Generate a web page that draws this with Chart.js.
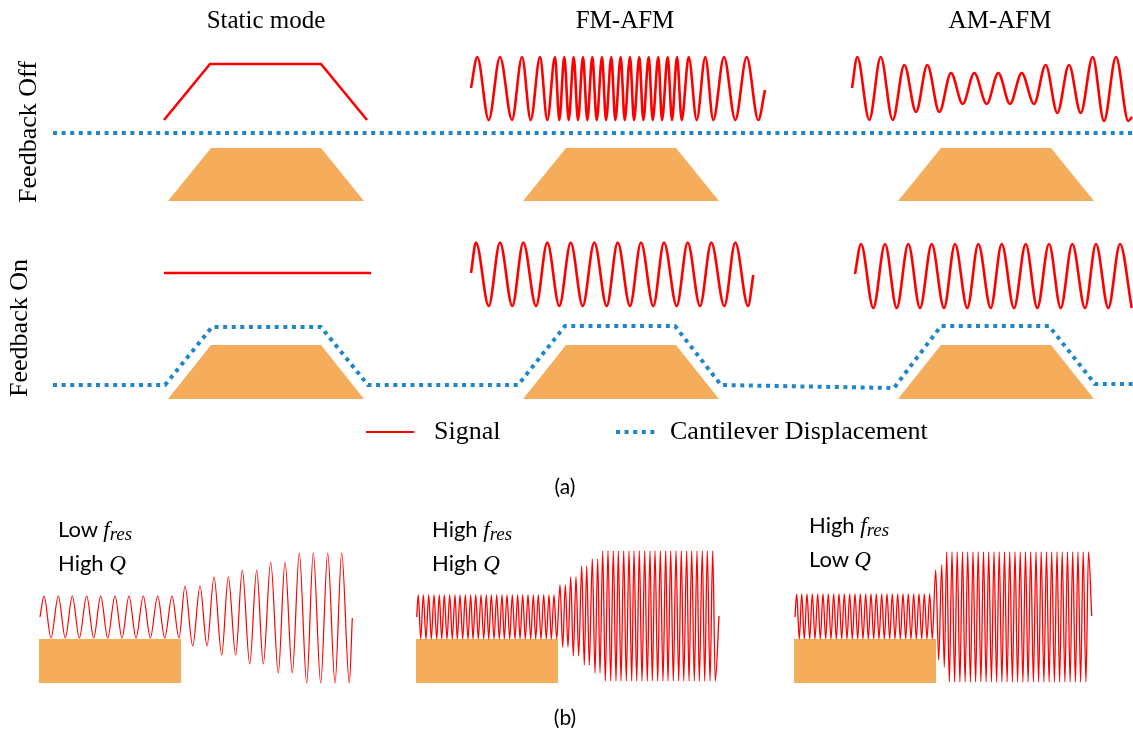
<!DOCTYPE html>
<html>
<head>
    <script src="https://cdn.jsdelivr.net/npm/chart.js@4.4.0/dist/chart.umd.min.js"></script>
    <style>
        body {
            margin: 0;
            background: #fff;
        }

        .wrap {
            position: relative;
            width: 1133px;
            height: 731px;
        }

        canvas {
            position: absolute;
            left: 0;
            top: 0;
        }

        .lbl {
            position: absolute;
            font-family: 'Liberation Serif', serif;
            font-size: 25px;
            line-height: 1;
            color: #000;
            white-space: nowrap;
            transform: translate(-50%, -50%);
        }

        .side {
            font-size: 26px;
            transform: translate(-50%, -50%) rotate(-90deg);
        }

        .leg {
            font-size: 26px;
            transform: translate(0, -50%);
        }

        .cap {
            font-family: 'Lato', sans-serif;
            font-size: 21px;
        }

        .note {
            position: absolute;
            font-family: 'Lato', sans-serif;
            font-size: 22px;
            line-height: 29px;
            color: #000;
            white-space: nowrap;
        }

        .note i {
            font-family: 'Liberation Serif', serif;
            font-size: 23px;
        }

        .note sub {
            font-family: 'Liberation Serif', serif;
            font-style: italic;
            font-size: 19px;
            vertical-align: -3px;
        }
    </style>
</head>
<body>
    <div class="wrap">
        <canvas id="fig" width="1133" height="731"></canvas>
    </div>

    <script>
        // titles and labels
        const titles = ['Static mode', 'FM-AFM', 'AM-AFM'];
        const rowLabels = ['Feedback Off', 'Feedback On'];
        const legendLabels = ['Signal', 'Cantilever Displacement'];
        const panelLabels = ['(a)', '(b)'];

        // (a) static mode signal
        const staticOffX = [164, 210, 321, 367];
        const staticOffY = [120, 64, 64, 120];
        const staticOnX = [164, 371];
        const staticOnY = [273, 273];

        // (a) FM-AFM signal, feedback off (peaks/troughs)
        const fmOffX = [471, 477.3, 488.7, 500, 512, 522, 530.7, 540, 547.3, 555, 559.3, 564.3, 568.7,
            573.7, 578, 583, 587.3, 592.3, 596.7, 602, 606, 611.3, 615.3, 620.7, 624.7, 630, 634, 639.3,
            643.3, 648.7, 652.7, 658.3, 662, 667.7, 672, 677, 681.7, 688.7, 696.7, 705.3, 713.3, 724,
            735.3, 746.7, 758.3, 765];
        const fmOffY = [88, 57, 120, 57, 120, 57, 120, 57, 120, 57, 120, 57, 120, 57, 120, 57, 120,
            57, 120, 57, 120, 57, 120, 57, 120, 57, 120, 57, 120, 57, 120, 57, 120, 57, 120, 57, 120,
            57, 120, 57, 120, 57, 120, 57, 120, 90];

        // (a) AM-AFM signal, feedback off
        const amOffX = [852, 857.3, 869.3, 880.7, 892.7, 904.3, 916, 927.3, 939.3, 951, 962.7, 974.3,
            986.7, 998.3, 1010, 1021.7, 1034, 1045.7, 1057.3, 1069, 1080.7, 1092.7, 1104, 1116, 1128.3, 1132];
        const amOffY = [88, 57, 120, 57, 120, 65, 112, 65, 112, 73, 104, 73, 104, 73, 104, 73, 104,
            65, 113, 65, 113, 57, 121, 57, 121, 117];

        // (a) FM-AFM signal, feedback on
        const fmOnX = [471, 476, 488.7, 500, 512.3, 523.3, 536, 547.3, 559.3, 570.7, 582.7, 594.3,
            606.7, 617.7, 630, 641, 653.3, 664, 676.7, 687.7, 700, 711.3, 724.3, 735.3, 748, 753.3];
        const fmOnY = [273, 242.5, 306, 242.5, 306, 242.5, 306, 242.5, 306, 242.5, 306, 242.5, 306,
            242.5, 306, 242.5, 306, 242.5, 306, 242.5, 306, 242.5, 306, 242.5, 306, 275];

        // (a) AM-AFM signal, feedback on
        const amOnX = [855, 861, 873.3, 885, 896.7, 908.3, 920, 931.7, 944, 955, 967.3, 978.3, 990.7,
            1001.7, 1014, 1025.7, 1037.3, 1049, 1060.7, 1072.3, 1085, 1096, 1108.3, 1120, 1131.7];
        const amOnY = [274, 244, 308, 244, 308, 244, 308, 244, 308, 244, 308, 244, 308, 244, 308,
            244, 308, 244, 308, 244, 308, 244, 308, 244, 308];

        // (a) cantilever displacement
        const dispOffX = [53, 1133];
        const dispOffY = [133, 133];
        const dispOnX = [53, 165, 212, 321, 368, 518, 565, 675, 721, 894, 941, 1049, 1095, 1133];
        const dispOnY = [385, 385, 327, 327, 385, 385, 326, 326, 385, 388, 326, 326, 384, 384];

        // (a) samples (trapezoids): corners left to right
        const sampleX = [[168, 211, 321, 364], [523, 566, 676, 719], [898, 941, 1051, 1094]];
        const sampleOffY = [201, 148, 148, 201];
        const sampleOnY = [399, 345, 345, 399];

        // (b) samples (rectangles)
        const blockX = [[39, 181], [416, 558], [794, 936]];
        const blockY = [639, 683];

        // (b) Low f_res, High Q
        const bLowX = [40, 44, 51, 58.3, 65.3, 72.3, 79.3, 86.7, 93.7, 100.7, 107.7, 115, 122, 129,
            136, 143.3, 150.3, 157.7, 164.7, 172, 179, 185, 192.7, 200, 207, 214, 221.7, 228.3, 235.7,
            242.3, 249.7, 256.7, 263.3, 270.7, 278.3, 285, 292.3, 299.3, 306.7, 313.3, 320.7, 327.7,
            335, 341.7, 349.3, 352.3];
        const bLowY = [617, 596, 638, 596, 638, 596, 638, 596, 638, 596, 638, 596, 638, 596, 638,
            596, 638, 596, 638, 596, 638, 586, 646, 586, 646, 577, 655, 577, 655, 570, 664, 570, 664,
            562, 673, 562, 673, 553, 683, 553, 683, 553, 683, 553, 683, 618];

        // (b) High f_res, High Q
        const bHighQX = [416.7,
            418.3, 420.7, 423.3, 426, 428.7, 431.3, 434, 436.7, 439.3, 441.7, 444.3, 447, 449.7, 452.3,
            455, 457.3, 460, 462.7, 465.3, 468, 470.7, 473, 475.7, 478.3, 481, 483.7, 486.3, 488.7,
            491.3, 494, 496.7, 499.3, 502, 504.3, 507, 509.7, 512.3, 515, 517.7, 520, 522.7, 525.3,
            528, 530.7, 533.3, 535.7, 538.3, 541, 543.7, 546.3, 549, 551.3, 554, 556.7,
            560, 562.7, 565.3, 568, 570.7, 573.3, 576, 578.7, 581.7, 584.3, 586.7, 589.3, 592.3, 595,
            597.7, 600,
            602.7, 605.3, 608, 610.7, 613.3, 616, 618.3, 621, 623.7, 626.3, 629, 631.7, 634, 636.7,
            639.3, 642, 644.7, 647.3, 650, 652.3, 655, 657.7, 660.3, 663, 665.7, 668, 670.7, 673.3,
            676, 678.7, 681.3, 683.7, 686.7, 689, 691.7, 694.3, 697, 699.3, 702.3, 704.7, 707.3, 710,
            712.7, 715.3,
            719];
        const bHighQY = [617,
            595, 639, 595, 639, 595, 639, 595, 639, 595, 639, 595, 639, 595, 639, 595, 639, 595, 639,
            595, 639, 595, 639, 595, 639, 595, 639, 595, 639, 595, 639, 595, 639, 595, 639, 595, 639,
            595, 639, 595, 639, 595, 639, 595, 639, 595, 639, 595, 639, 595, 639, 595, 639, 595, 639,
            585, 647, 585, 647, 577, 656, 577, 656, 566, 665, 566, 665, 559, 673, 559, 673,
            551, 681, 551, 681, 551, 681, 551, 681, 551, 681, 551, 681, 551, 681, 551, 681, 551, 681,
            551, 681, 551, 681, 551, 681, 551, 681, 551, 681, 551, 681, 551, 681, 551, 681, 551, 681,
            551, 681, 551, 681, 551, 681, 551, 681,
            616];

        // (b) High f_res, Low Q
        const bLowQX = [795,
            796.7, 799.3, 801.7, 804.3, 807, 809.7, 812.3, 815, 817.7, 820.3, 823, 825.7, 828.3, 831,
            833.7, 836.3, 839, 841.7, 844.3, 847, 849.7, 852.3, 855, 857.7, 860.3, 863, 865.7, 868.3,
            871, 873.7, 876.3, 879, 881.7, 884.3, 887, 889.7, 892.3, 895, 897.7, 900.3, 903, 905.7,
            908.3, 911, 913.7, 916.3, 919, 921.7, 924.3, 927, 929.7, 932.3,
            935.7, 938.7, 941.7, 944.3,
            946.7, 949.3, 952, 954.6, 957.2, 959.9, 962.5, 965.1, 967.7, 970.4, 973, 975.6, 978.2,
            980.9, 983.5, 986.1, 988.7, 991.4, 994, 996.6, 999.2, 1001.9, 1004.5, 1007.1, 1009.7,
            1012.4, 1015, 1017.6, 1020.2, 1022.9, 1025.5, 1028.1, 1030.7, 1033.4, 1036, 1038.6,
            1041.2, 1043.9, 1046.5, 1049.1, 1051.7, 1054.4, 1057, 1059.6, 1062.2, 1064.9, 1067.5,
            1070.1, 1072.7, 1075.4, 1078, 1080.6, 1083.2, 1085.9, 1088.5,
            1091.7];
        const bLowQY = [617,
            594, 639, 594, 639, 594, 639, 594, 639, 594, 639, 594, 639, 594, 639, 594, 639, 594, 639,
            594, 639, 594, 639, 594, 639, 594, 639, 594, 639, 594, 639, 594, 639, 594, 639, 594, 639,
            594, 639, 594, 639, 594, 639, 594, 639, 594, 639, 594, 639, 594, 639, 594, 639,
            570, 660, 565, 667,
            552, 682, 552, 682, 552, 682, 552, 682, 552, 682, 552, 682, 552, 682, 552, 682, 552, 682,
            552, 682, 552, 682, 552, 682, 552, 682, 552, 682, 552, 682, 552, 682, 552, 682, 552, 682,
            552, 682, 552, 682, 552, 682, 552, 682, 552, 682, 552, 682, 552, 682, 552, 682, 552, 682,
            552,
            616];

        // legend samples
        const legendSignalX = [366, 414];
        const legendDispX = [616, 657];
        const legendY = [432, 432];

        const RED = '#ff0000';
        const BLUE = '#1f87c9';
        const ORANGE = '#f6ad5b';

        function pts(xs, ys) {
            return xs.map((x, i) => ({ x: x, y: ys[i] }));
        }

        function wave(xs, ys, width) {
            return {
                data: pts(xs, ys),
                borderColor: RED,
                borderWidth: width,
                cubicInterpolationMode: 'monotone',
                borderJoinStyle: 'round',
                fill: false
            };
        }

        function straight(xs, ys, width) {
            return {
                data: pts(xs, ys),
                borderColor: RED,
                borderWidth: width,
                tension: 0,
                fill: false
            };
        }

        function dotted(xs, ys) {
            return {
                data: pts(xs, ys),
                borderColor: BLUE,
                borderWidth: 4,
                borderDash: [4, 4.6],
                borderCapStyle: 'butt',
                tension: 0,
                fill: false
            };
        }

        function block(xs, ys, base) {
            return {
                data: pts(xs, ys),
                borderWidth: 0,
                borderColor: 'rgba(0,0,0,0)',
                backgroundColor: ORANGE,
                tension: 0,
                fill: { value: base }
            };
        }

        const datasets = [
            straight(staticOffX, staticOffY, 2.6),
            straight(staticOnX, staticOnY, 2.6),
            wave(fmOffX, fmOffY, 2.6),
            wave(amOffX, amOffY, 2.6),
            wave(fmOnX, fmOnY, 2.6),
            wave(amOnX, amOnY, 2.6),
            wave(bLowX, bLowY, 1.2),
            wave(bHighQX, bHighQY, 1.3),
            wave(bLowQX, bLowQY, 1.3),
            dotted(dispOffX, dispOffY),
            dotted(dispOnX, dispOnY),
            straight(legendSignalX, legendY, 2),
            dotted(legendDispX, legendY)
        ];

        sampleX.forEach(xs => {
            datasets.push(block(xs, sampleOffY, sampleOffY[0]));
            datasets.push(block(xs, sampleOnY, sampleOnY[0]));
        });
        blockX.forEach(xs => {
            datasets.push(block([xs[0], xs[0], xs[1], xs[1]], [blockY[1], blockY[0], blockY[0], blockY[1]], blockY[1]));
        });

        new Chart(document.getElementById('fig'), {
            type: 'line',
            data: { datasets: datasets },
            options: {
                responsive: false,
                animation: false,
                devicePixelRatio: 1,
                layout: { padding: 0 },
                elements: { point: { radius: 0, hoverRadius: 0 } },
                plugins: {
                    legend: { display: false },
                    tooltip: { enabled: false }
                },
                scales: {
                    x: { type: 'linear', min: 0, max: 1133, display: false },
                    y: { type: 'linear', min: 0, max: 731, reverse: true, display: false }
                }
            }
        });

        // text labels
        const wrap = document.querySelector('.wrap');
        function addText(cls, html, left, top) {
            const el = document.createElement('div');
            el.className = cls;
            el.innerHTML = html;
            el.style.left = left + 'px';
            el.style.top = top + 'px';
            wrap.appendChild(el);
        }

        addText('lbl', titles[0], 266, 19);
        addText('lbl', titles[1], 625, 19);
        addText('lbl', titles[2], 1000, 19);
        addText('lbl side', rowLabels[0], 28, 132);
        addText('lbl side', rowLabels[1], 19, 328);
        addText('lbl leg', legendLabels[0], 434, 431);
        addText('lbl leg', legendLabels[1], 670, 431);
        addText('lbl cap', panelLabels[0], 565, 485);
        addText('lbl cap', panelLabels[1], 565, 716);
        addText('note', 'Low <i>f</i><sub>res</sub><br>High <i>Q</i>', 58, 514);
        addText('note', 'High <i>f</i><sub>res</sub><br>High <i>Q</i>', 432, 514);
        addText('note', 'High <i>f</i><sub>res</sub><br>Low <i>Q</i>', 809, 510);
    </script>
</body>
</html>
